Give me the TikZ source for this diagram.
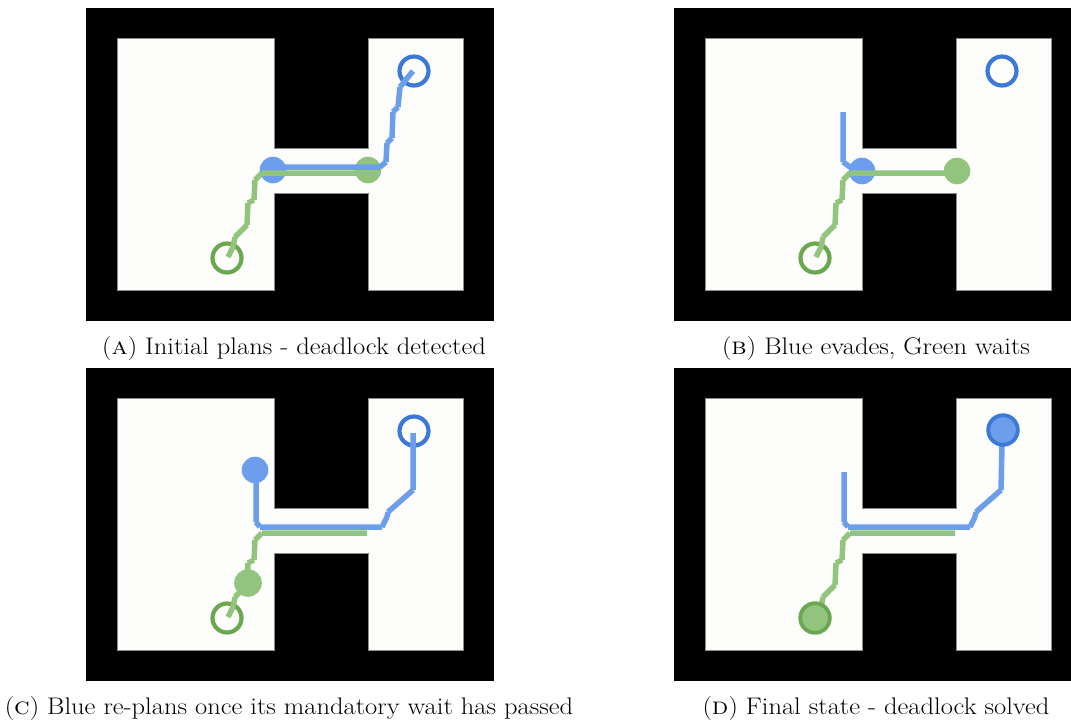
\documentclass[tikz,border=0pt]{standalone}
\usepackage{tikz}
\definecolor{pathblue}{HTML}{6D9EEB}
\definecolor{ringblue}{HTML}{3C78D8}
\definecolor{pathgreen}{HTML}{93C47D}
\definecolor{ringgreen}{HTML}{6AA84F}
\definecolor{freecol}{RGB}{253,254,251}
\tikzset{
  wall/.style={fill=black},
  free/.style={fill=freecol,draw=black!45,line width=0.8pt},
  bpath/.style={draw=pathblue,line width=5.5pt,line cap=butt},
  gpath/.style={draw=pathgreen,line width=5.5pt,line cap=butt},
  bgoal/.style={draw=ringblue,line width=4.2pt},
  ggoal/.style={draw=ringgreen,line width=4.2pt},
  brobot/.style={fill=pathblue},
  grobot/.style={fill=pathgreen},
  bdone/.style={fill=pathblue,draw=ringblue,line width=3.8pt},
  gdone/.style={fill=pathgreen,draw=ringgreen,line width=3.8pt},
  caption/.style={anchor=base,inner sep=0pt,font=\fontsize{24}{29}\selectfont},
}
\newcommand{\captext}[1]{\scalebox{1.105}[1]{#1}}
\newcommand{\mapH}[1]{%
  \fill[wall] (86,8) rectangle (#1,321);
  \draw[free] (117,38) -- (274,38) -- (274,148) -- (368,148) -- (368,38) -- (463,38)
    -- (463,290) -- (368,290) -- (368,193) -- (274,193) -- (274,290) -- (117,290) -- cycle;
}
\newcommand{\greentail}{%
  (262,173) -- (255,180) (255,180) -- (254,200) (254,200) -- (248,203)
  (248,203) -- (247,225) (247,225) -- (235,237) (235,237) -- (233,247)
  (233,247) -- (228,257)
}
\newcommand{\bluereplan}{%
  (382,167) -- (260,167) (260,167) -- (256,162)
  (413,130) -- (388,152) (388,152) -- (387,157) (387,157) -- (382,167)
}
\begin{document}
\begin{tikzpicture}[x=1pt,y=-1pt]
\useasboundingbox (0,0) rectangle (1071,724);
\fill[white] (0,0) rectangle (1071,724);

% ---------------- Panel A ----------------
\begin{scope}
  \mapH{494}
  \draw[bgoal] (414,71) circle (14.5);
  \draw[ggoal] (227,258) circle (14.5);
  \fill[brobot] (273,170) circle (13.3);
  \fill[grobot] (368,170) circle (13.3);
  \draw[gpath] (380,173) -- (262,173) \greentail;
  \draw[bpath] (413,71) -- (400,87) (400,87) -- (398,107) (398,107) -- (393,112)
    (393,112) -- (392,138) (392,138) -- (387,143) (387,143) -- (386,162)
    (386,162) -- (380,167) (380,167) -- (273,167);
  \node[caption] (capA) at (294,354) {\captext{(\textsc{a}) Initial plans - deadlock detected}};
\end{scope}

% ---------------- Panel B ----------------
\begin{scope}[shift={(588,0)}]
  \mapH{483}
  \draw[bgoal] (414,71) circle (14.5);
  \draw[ggoal] (227,258) circle (14.5);
  \fill[brobot] (274,171) circle (13.3);
  \fill[grobot] (369,171) circle (13.3);
  \draw[bpath] (255,112) -- (255,162) (255,162) -- (262,167) (262,167) -- (272,170);
  \draw[gpath] (369,173) -- (262,173) \greentail;
  \node[caption] (capB) at (288,354) {\captext{(\textsc{b}) Blue evades, Green waits}};
\end{scope}

% ---------------- Panel C ----------------
\begin{scope}[shift={(0,360)}]
  \mapH{494}
  \draw[bgoal] (414,71) circle (14.5);
  \draw[ggoal] (227,258) circle (14.5);
  \draw[gpath] (367,173) -- (262,173) \greentail;
  \draw[bpath] (413,73) -- (413,130) \bluereplan (256,162) -- (256,112);
  \fill[brobot] (255,110) circle (13.3);
  \fill[grobot] (248,223) circle (13.8);
  \node[caption] (capC) at (289,354) {\captext{(\textsc{c}) Blue re-plans once its mandatory wait has passed}};
\end{scope}

% ---------------- Panel D ----------------
\begin{scope}[shift={(588,360)}]
  \mapH{483}
  \draw[gpath] (367,173) -- (262,173) \greentail;
  \draw[bpath] (414,85) -- (413,130) \bluereplan (256,162) -- (256,112);
  \draw[bdone] (415,70) circle (14.8);
  \draw[gdone] (227,258) circle (14.8);
  \node[caption] (capD) at (288,354) {\captext{(\textsc{d}) Final state - deadlock solved}};
\end{scope}
\end{tikzpicture}
\end{document}
